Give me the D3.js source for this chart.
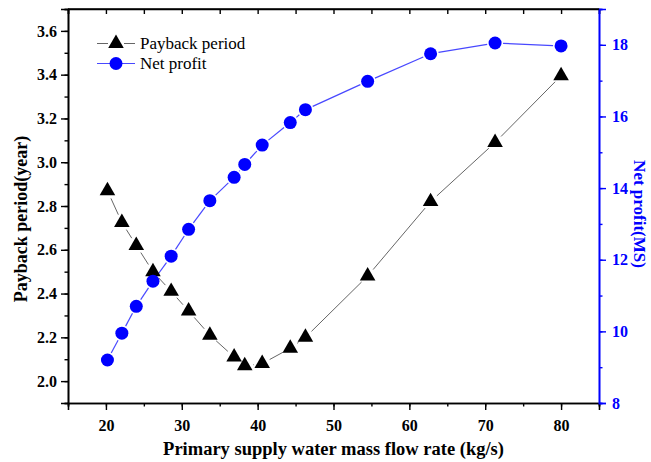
<!DOCTYPE html>
<html>
<head>
<meta charset="utf-8">
<script src="https://cdn.jsdelivr.net/npm/d3@7"></script>
<style>
  body { margin: 0; background: #fff; }
  text { font-family: "Liberation Serif", "Times New Roman", serif; }
</style>
</head>
<body>
<script>
// data
var flowRate = [20.2, 22.1, 24.0, 26.2, 28.6, 30.9, 33.7, 36.9, 38.3, 40.6, 44.3, 46.3, 54.5, 62.8, 71.3, 80.0];
var payback = [2.87, 2.725, 2.62, 2.50, 2.41, 2.32, 2.21, 2.11, 2.07, 2.08, 2.15, 2.20, 2.48, 2.82, 3.09, 3.395];
var netProfit = [9.2, 9.95, 10.7, 11.4, 12.1, 12.85, 13.65, 14.3, 14.66, 15.2, 15.83, 16.19, 16.98, 17.75, 18.05, 17.97];
var xTicks = [20, 30, 40, 50, 60, 70, 80];
var leftTicks = [2.0, 2.2, 2.4, 2.6, 2.8, 3.0, 3.2, 3.4, 3.6];
var rightTicks = [8, 10, 12, 14, 16, 18];

var svgWidth = 651, svgHeight = 462;
var margin = { top: 9, right: 52, bottom: 59, left: 68 };
var width = svgWidth - margin.left - margin.right;
var height = svgHeight - margin.top - margin.bottom;
var blue = "#0000ff";
var blueLine = "#4848ff";
var grayLine = "#666";

var svg = d3.select("body").append("svg")
  .attr("width", svgWidth)
  .attr("height", svgHeight);

var chartGroup = svg.append("g")
  .attr("transform", `translate(${margin.left}, ${margin.top})`);

var x = d3.scaleLinear().domain([15, 85]).range([0, width]);
var yLeft = d3.scaleLinear().domain([1.9, 3.7]).range([height, 0]);
var yRight = d3.scaleLinear().domain([8, 19]).range([height, 0]);

var minorX = d3.range(15, 86, 5);
var minorLeft = d3.range(19, 38, 1).map(d => d / 10);
var minorRight = d3.range(8, 20, 1);

// minor ticks
function minor(axis, scale, vals) {
  return axis(scale).tickValues(vals).tickSize(3.5).tickFormat("");
}

// bottom
chartGroup.append("g").attr("class", "ax")
  .attr("transform", `translate(0, ${height})`)
  .call(minor(d3.axisBottom, x, minorX));
chartGroup.append("g").attr("class", "ax lab")
  .attr("transform", `translate(0, ${height})`)
  .call(d3.axisBottom(x).tickValues(xTicks).tickSize(7).tickPadding(10));

// top, inward ticks
chartGroup.append("g").attr("class", "ax")
  .call(d3.axisBottom(x).tickValues(minorX).tickSize(5).tickFormat(""));

// left
chartGroup.append("g").attr("class", "ax")
  .call(minor(d3.axisLeft, yLeft, minorLeft));
chartGroup.append("g").attr("class", "ax lab")
  .call(d3.axisLeft(yLeft).tickValues(leftTicks).tickSize(7).tickPadding(4).tickFormat(d3.format(".1f")));

// right
chartGroup.append("g").attr("class", "ax blue")
  .attr("transform", `translate(${width}, 0)`)
  .call(minor(d3.axisRight, yRight, minorRight));
chartGroup.append("g").attr("class", "ax blue lab")
  .attr("transform", `translate(${width}, 0)`)
  .call(d3.axisRight(yRight).tickValues(rightTicks).tickSize(7).tickPadding(6));

chartGroup.selectAll(".ax .domain").attr("stroke", "#000").attr("stroke-width", 1.6);
chartGroup.selectAll(".ax line").attr("stroke", "#000").attr("stroke-width", 1.4);
chartGroup.selectAll(".ax.blue .domain, .ax.blue line").attr("stroke", blue);
chartGroup.selectAll(".ax.lab text")
  .attr("font-size", 16).attr("font-weight", "bold").attr("fill", "#000")
  .style("font-family", "'Liberation Serif', serif");
chartGroup.selectAll(".ax.blue.lab text").attr("fill", blue);

// top border
chartGroup.append("line")
  .attr("x1", 0).attr("x2", width).attr("y1", 0).attr("y2", 0)
  .attr("stroke", "#000").attr("stroke-width", 1.6);

var pts = flowRate.map((f, i) => ({ f: f, p: payback[i], n: netProfit[i] }));

// connecting lines, broken around the markers
function gappedSegments(yScale, key, gap, color, w) {
  var xy = pts.map(d => [x(d.f), yScale(d[key])]);
  for (var i = 0; i < xy.length - 1; i++) {
    var a = xy[i], b = xy[i + 1];
    var dx = b[0] - a[0], dy = b[1] - a[1];
    var len = Math.sqrt(dx * dx + dy * dy);
    if (len <= gap * 2) continue;
    var ux = dx / len, uy = dy / len;
    chartGroup.append("line")
      .attr("x1", a[0] + ux * gap).attr("y1", a[1] + uy * gap)
      .attr("x2", b[0] - ux * gap).attr("y2", b[1] - uy * gap)
      .attr("stroke", color).attr("stroke-width", w);
  }
}
gappedSegments(yLeft, "p", 8.5, grayLine, 1);
gappedSegments(yRight, "n", 8, blueLine, 1.2);

var tri = d3.symbol().type(d3.symbolTriangle).size(105);

chartGroup.selectAll(".pb").data(pts).enter()
  .append("path")
  .attr("transform", d => `translate(${x(d.f)}, ${yLeft(d.p)})`)
  .attr("d", tri)
  .attr("fill", "#000");

chartGroup.selectAll(".np").data(pts).enter()
  .append("circle")
  .attr("cx", d => x(d.f))
  .attr("cy", d => yRight(d.n))
  .attr("r", 6.5)
  .attr("fill", blue);

// legend
var legend = chartGroup.append("g").attr("transform", "translate(29, 34.5)");
legend.append("line").attr("x1", 0).attr("x2", 11).attr("y1", 0).attr("y2", 0)
  .attr("stroke", grayLine).attr("stroke-width", 1);
legend.append("line").attr("x1", 27).attr("x2", 38).attr("y1", 0).attr("y2", 0)
  .attr("stroke", grayLine).attr("stroke-width", 1);
legend.append("path").attr("transform", "translate(19, 0)").attr("d", tri).attr("fill", "#000");
legend.append("text").attr("x", 43).attr("y", 5.5).attr("font-size", 17).text("Payback period");
legend.append("line").attr("x1", 0).attr("x2", 38).attr("y1", 20).attr("y2", 20)
  .attr("stroke", blueLine).attr("stroke-width", 1.2);
legend.append("circle").attr("cx", 19).attr("cy", 20).attr("r", 6.5).attr("fill", blue);
legend.append("text").attr("x", 43).attr("y", 25.5).attr("font-size", 17).text("Net profit");

// axis titles
chartGroup.append("text")
  .attr("x", width / 2).attr("y", height + 52)
  .attr("text-anchor", "middle").attr("font-size", 18.5).attr("font-weight", "bold")
  .text("Primary supply water mass flow rate (kg/s)");

chartGroup.append("text")
  .attr("transform", "rotate(-90)")
  .attr("x", -(height / 2 + 13)).attr("y", -41)
  .attr("text-anchor", "middle").attr("font-size", 18).attr("font-weight", "bold")
  .text("Payback period(year)");

chartGroup.append("text")
  .attr("transform", `translate(${width + 35}, ${height / 2 + 8}) rotate(90)`)
  .attr("text-anchor", "middle").attr("font-size", 17).attr("font-weight", "bold")
  .attr("fill", blue)
  .text("Net profit(MS)");
</script>
</body>
</html>
